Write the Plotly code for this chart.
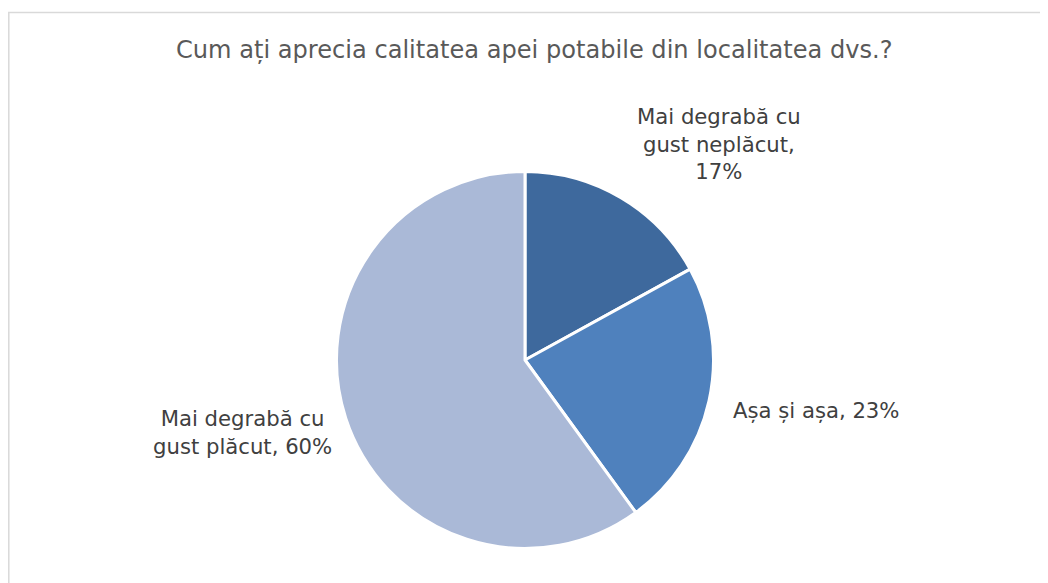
import plotly.graph_objects as go

labels = ["Mai degrabă cu gust neplăcut", "Așa și așa", "Mai degrabă cu gust plăcut"]
values = [17, 23, 60]
colors = ["#3E699D", "#4F81BD", "#AAB9D7"]
title = "Cum ați aprecia calitatea apei potabile din localitatea dvs.?"

# page body has an 8px margin; figure coordinates below are page coords minus 8
W, H = 1040, 575
OFF = 8
cx, cy, r = 525 - OFF, 360 - OFF, 188.5

fig = go.Figure(go.Pie(
    labels=labels, values=values, sort=False, direction="clockwise", rotation=0,
    marker=dict(colors=colors, line=dict(color="white", width=3)),
    textinfo="none", hoverinfo="label+percent", showlegend=False,
    domain=dict(x=[(cx - r) / W, (cx + r) / W], y=[(H - cy - r) / H, (H - cy + r) / H]),
))

font = "DejaVu Sans, Verdana, sans-serif"
lab_text = [
    "Mai degrabă cu<br>gust neplăcut,<br>%d%%" % values[0],
    "%s, %d%%" % (labels[1], values[1]),
    "Mai degrabă cu<br>gust plăcut, %d%%" % values[2],
]
pos = [(719, 144, "center"), (731, 410, "left"), (242, 432, "center")]
anns = []
for t, (x, y, al) in zip(lab_text, pos):
    anns.append(dict(x=(x - OFF) / W, y=1 - (y - OFF) / H, xref="paper", yref="paper", text=t, showarrow=False,
                     xanchor=al, yanchor="middle", align="center",
                     font=dict(family=font, size=21.2, color="#404040")))
anns.append(dict(x=(534.5 - OFF) / W, y=1 - (50 - OFF) / H, xref="paper", yref="paper", text=title, showarrow=False,
                 xanchor="center", yanchor="middle",
                 font=dict(family=font, size=24.1, color="#595959")))

fig.update_layout(
    width=W, height=H, margin=dict(l=0, r=0, t=0, b=0),
    paper_bgcolor="white", plot_bgcolor="white",
    annotations=anns,
    shapes=[dict(type="rect", xref="paper", yref="paper", x0=0.8 / W, x1=1.2, y0=-0.2, y1=1 - 4.5 / H,
                 line=dict(color="#D9D9D9", width=1.5), fillcolor="rgba(0,0,0,0)", layer="below")],
)
fig.write_html("out.html")
